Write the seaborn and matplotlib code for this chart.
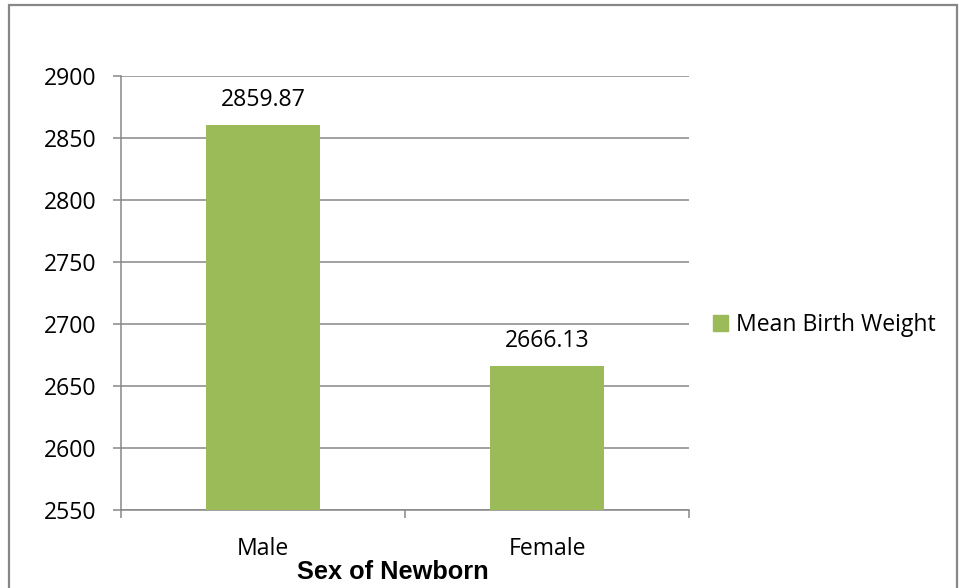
import matplotlib
matplotlib.use("Agg")
import matplotlib.pyplot as plt
import matplotlib.patches as mpatches
from matplotlib.ticker import FixedLocator, MultipleLocator
import seaborn as sns
import pandas as pd

categories = ["Male", "Female"]
mean_weight = [2859.87, 2666.13]
series_name = "Mean Birth Weight"
x_title = "Sex of Newborn"
y_min, y_max, y_step = 2550, 2900, 50

sns.set_theme(style="white")
plt.rcParams["font.family"] = ["Open Sans", "DejaVu Sans"]
plt.rcParams["text.color"] = "black"

W, H = 959, 588
fig = plt.figure(figsize=(W / 100, H / 100), dpi=100)
fig.patch.set_facecolor("white")

ax_left, ax_right, ax_top, ax_bottom = 121, 689, 75.7, 510
ax = fig.add_axes([ax_left / W, 1 - ax_bottom / H,
                   (ax_right - ax_left) / W, (ax_bottom - ax_top) / H])

bar_color = "#9BBB59"
grid_color = "#878787"
fs = 16.6

df = pd.DataFrame({"sex": categories, "weight": mean_weight})
sns.barplot(data=df, x="sex", y="weight", color=bar_color, width=0.4,
            saturation=1, ax=ax, zorder=3, linewidth=0)

ax.set_xlim(-0.5, len(categories) - 0.5)
ax.set_ylim(y_min, y_max)
ax.yaxis.set_major_locator(MultipleLocator(y_step))
ax.grid(axis="y", color=grid_color, linewidth=1.1)
ax.grid(axis="x", visible=False)
ax.set_axisbelow(True)

for s in ["top", "right"]:
    ax.spines[s].set_visible(False)
for s in ["left", "bottom"]:
    ax.spines[s].set_visible(True)
    ax.spines[s].set_color(grid_color)
    ax.spines[s].set_linewidth(1.1)

# x ticks at category boundaries, labels at centers
n = len(categories)
ax.xaxis.set_major_locator(FixedLocator([i - 0.5 for i in range(n + 1)]))
ax.xaxis.set_minor_locator(FixedLocator(list(range(n))))
ax.set_xticklabels([""] * (n + 1))
ax.set_xticklabels(categories, minor=True)
ax.tick_params(axis="x", which="major", length=6, width=1.1, color=grid_color,
               direction="out", bottom=True)
ax.tick_params(axis="x", which="minor", length=0, pad=19.5, labelsize=fs,
               labelcolor="black", bottom=True)
ax.tick_params(axis="y", which="major", length=6, width=1.1, color=grid_color,
               direction="out", left=True, pad=12, labelsize=fs, labelcolor="black")
ax.set_xlabel("")
ax.set_ylabel("")

# data labels
for cont in ax.containers:
    ax.bar_label(cont, labels=[f"{v:.2f}" for v in mean_weight], padding=9.5,
                 fontsize=fs, color="black")

# x axis title
fig.text(393 / W, 1 - 579 / H, x_title, ha="center", va="baseline", color="black",
         fontsize=18.3, fontweight="bold", family=["Liberation Sans", "DejaVu Sans"])

# legend
handle = mpatches.Patch(color=bar_color, label=series_name)
leg = fig.legend(handles=[handle], loc="center left",
                 bbox_to_anchor=(713 / W, 1 - 325 / H), bbox_transform=fig.transFigure,
                 frameon=False, fontsize=fs, handlelength=0.65, handleheight=0.65,
                 handletextpad=0.33, borderpad=0, borderaxespad=0, labelcolor="black")

# outer chart border
border = mpatches.Rectangle((9 / W, -0.05), (957 - 9) / W, 1 - 5 / H + 0.05,
                            transform=fig.transFigure, fill=False,
                            edgecolor=grid_color, linewidth=1.6, zorder=10)
fig.patches.append(border)

fig.savefig("out.png", dpi=100)
